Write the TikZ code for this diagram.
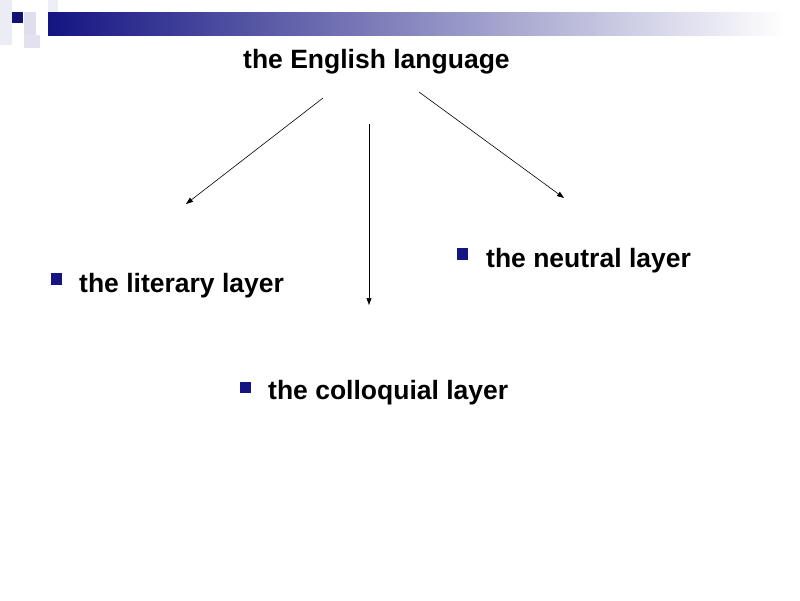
\documentclass[tikz,border=0pt]{standalone}
\usepackage{fontspec}
\setmainfont{Liberation Sans}
\usetikzlibrary{arrows.meta}
\definecolor{navy}{RGB}{20,20,130}
\definecolor{pale}{RGB}{200,200,228}
\tikzset{layer/.style = {anchor = base west, inner sep = 0, font = \fontsize{26.5}{30}\selectfont\bfseries},
         bullet/.style = {fill = navy, draw = none},
         arr/.style = {-{Triangle[length=7pt, width=5pt]}, line width = 0.6pt}}

\begin{document}
\begin{tikzpicture}[x=1pt, y=-1pt]
  \useasboundingbox [fill = white] (0, 0) rectangle (800, 600);
  % top bar
  \fill [pale!35] (0, 0) rectangle (12, 45);
  \fill [pale!55] (24, 35) rectangle (40, 48);
  \fill [pale!30] (48, 0) rectangle (58, 12);
  \fill [pale!60] (24, 12) rectangle (36, 35);
  \shade [left color = navy, right color = white] (48, 12) rectangle (785, 35);
  \fill [navy!90!black] (12, 12) rectangle (23, 23);
  % title
  \node [layer] (lang) at (243, 68) {the English language};
  % layers
  \node [layer] (lit) at (79, 292) {the literary layer};
  \node [layer] (neut) at (486, 267) {the neutral layer};
  \node [layer] (coll) at (268, 399) {the colloquial layer};
  \fill [bullet] (51, 273) rectangle (62, 285);
  \fill [bullet] (457, 248) rectangle (468, 260);
  \fill [bullet] (240, 382) rectangle (251, 393);
  % arrows
  \coordinate (litS) at (323, 98);
  \coordinate (litE) at (186, 204);
  \coordinate (collS) at (369, 124);
  \coordinate (collE) at (369, 305);
  \coordinate (neutS) at (419, 92);
  \coordinate (neutE) at (564, 198);
  \draw [arr] (litS) -- (litE);
  \draw [arr] (collS) -- (collE);
  \draw [arr] (neutS) -- (neutE);
\end{tikzpicture}
\end{document}
